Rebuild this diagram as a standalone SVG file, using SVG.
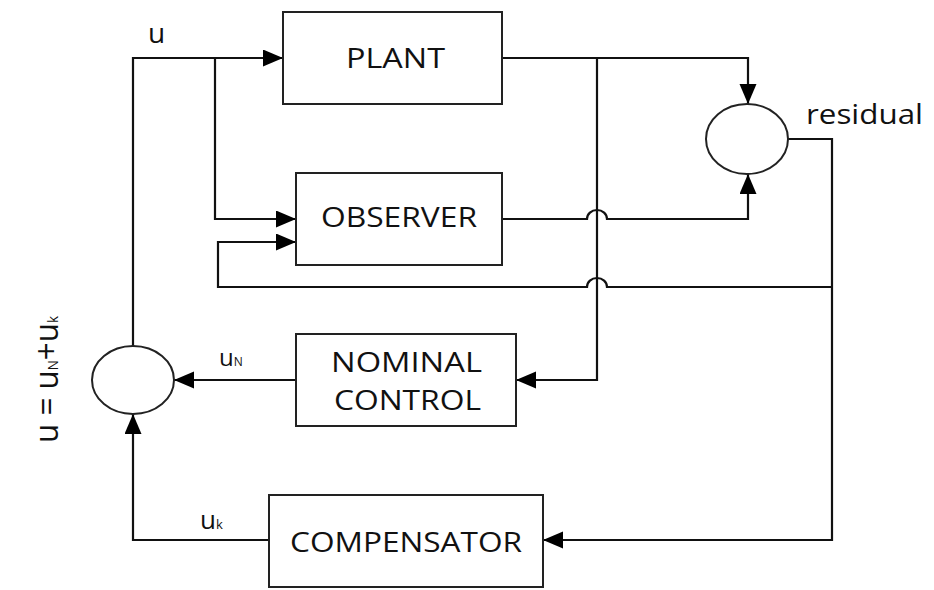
<svg xmlns="http://www.w3.org/2000/svg" width="934" height="590" viewBox="0 0 934 590">
<style>
.box{fill:#fff;stroke:#222;stroke-width:2}
.sum{fill:#fff;stroke:#222;stroke-width:2}
.ln{fill:none;stroke:#111;stroke-width:2.2}
.t{font-family:"Open Sans","Noto Sans",sans-serif;font-size:27px;font-weight:500;fill:#111}
.s{font-family:"Open Sans","Noto Sans",sans-serif;font-weight:500;fill:#111}
</style>
<defs>
<marker id="ah" markerUnits="userSpaceOnUse" markerWidth="20" markerHeight="18" refX="20" refY="8.5" orient="auto">
<path d="M0,0 L20,8.5 L0,17 z" fill="#000"/>
</marker>
</defs>
<rect width="934" height="590" fill="#fff"/>
<g id="connectors">
<path class="ln" d="M269,540 H133 V414" marker-end="url(#ah)"/>
<path class="ln" d="M296,380 H174" marker-end="url(#ah)"/>
<path class="ln" d="M133,346 V58 H283" marker-end="url(#ah)"/>
<path class="ln" d="M215,58 V219 H296" marker-end="url(#ah)"/>
<path class="ln" d="M502,58 H748 V104" marker-end="url(#ah)"/>
<path class="ln" d="M597,58 V380 H516" marker-end="url(#ah)"/>
<path class="ln" d="M502,219 H587 A10,9 0 0 1 607,219 H748 V174" marker-end="url(#ah)"/>
<path class="ln" d="M788,139 H832 V540 H543" marker-end="url(#ah)"/>
<path class="ln" d="M832,287 H607 A10,9 0 0 0 587,287 H218 V242 H296" marker-end="url(#ah)"/>
</g>
<g id="plant">
<rect class="box" x="283" y="12" width="219" height="92"/>
<text class="t" x="346" y="68" textLength="99" lengthAdjust="spacingAndGlyphs">PLANT</text>
</g>
<g id="observer">
<rect class="box" x="296" y="173" width="206" height="92"/>
<text class="t" x="321" y="227" textLength="156" lengthAdjust="spacingAndGlyphs">OBSERVER</text>
</g>
<g id="nominal-control">
<rect class="box" x="296" y="334" width="220" height="92"/>
<text class="t" x="331" y="372" textLength="151" lengthAdjust="spacingAndGlyphs">NOMINAL</text>
<text class="t" x="334" y="410" textLength="147" lengthAdjust="spacingAndGlyphs">CONTROL</text>
</g>
<g id="compensator">
<rect class="box" x="269" y="495" width="274" height="92"/>
<text class="t" x="290" y="552" textLength="232" lengthAdjust="spacingAndGlyphs">COMPENSATOR</text>
</g>
<g id="residual-sum">
<ellipse class="sum" cx="747" cy="139" rx="41" ry="35"/>
</g>
<g id="control-sum">
<ellipse class="sum" cx="133" cy="380" rx="41" ry="34"/>
</g>
<g id="labels">
<text class="s" x="806" y="124" font-size="27" textLength="117" lengthAdjust="spacingAndGlyphs">residual</text>
<text class="s" x="148" y="43" font-size="28">u</text>
<text class="s" x="219" y="366" font-size="24">u<tspan font-size="12">N</tspan></text>
<text class="s" x="200" y="529" font-size="26">u<tspan font-size="13">k</tspan></text>
<text class="s" transform="translate(58,443) rotate(-90)" x="0" y="0" font-size="33" textLength="127" lengthAdjust="spacingAndGlyphs">u = u<tspan font-size="14">N</tspan>+u<tspan font-size="14">k</tspan></text>
</g>
</svg>
